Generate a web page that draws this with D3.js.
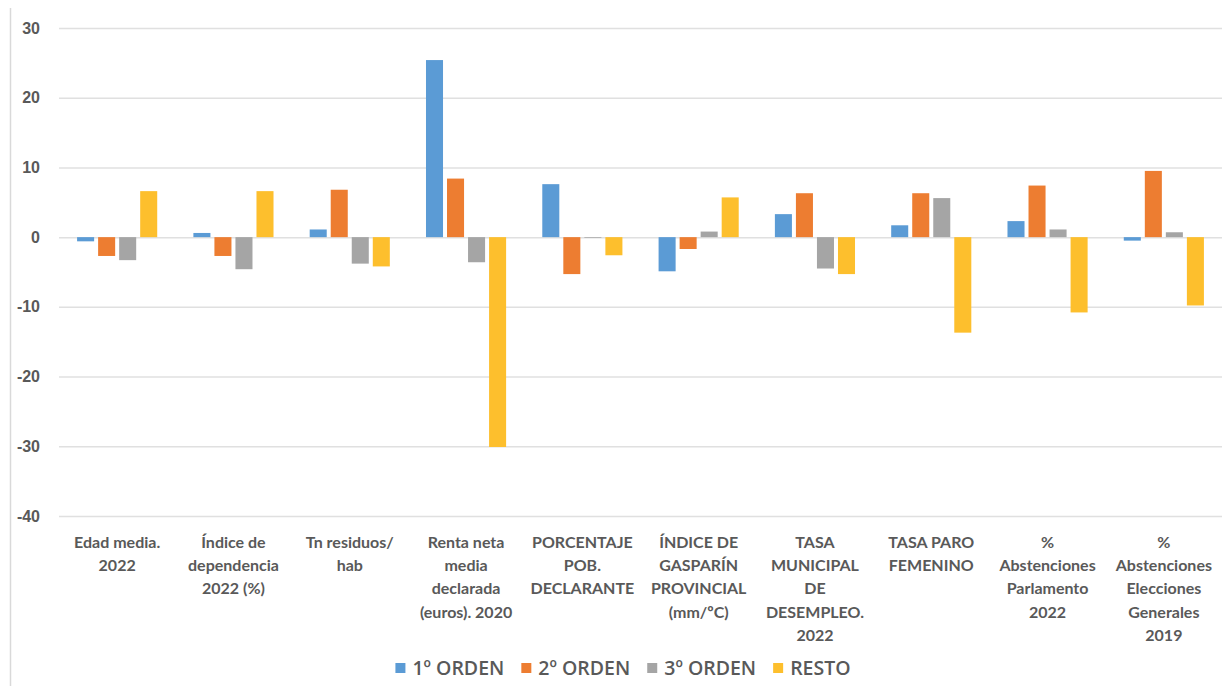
<!DOCTYPE html>
<html>
<head>
<meta charset="utf-8">
<script src="https://cdn.jsdelivr.net/npm/d3@7"></script>
<style>
  body { margin: 0; background: #fff; }
  svg { display: block; font-family: Lato, "Open Sans", sans-serif; }
</style>
</head>
<body>
<div class="chart"></div>
<script>
const categories = [
    "Edad media.\n2022",
    "Índice de\ndependencia\n2022 (%)",
    "Tn residuos/\nhab",
    "Renta neta\nmedia\ndeclarada\n(euros). 2020",
    "PORCENTAJE\nPOB.\nDECLARANTE",
    "ÍNDICE DE\nGASPARÍN\nPROVINCIAL\n(mm/ºC)",
    "TASA\nMUNICIPAL\nDE\nDESEMPLEO.\n2022",
    "TASA PARO\nFEMENINO",
    "%\nAbstenciones\nParlamento\n2022",
    "%\nAbstenciones\nElecciones\nGenerales\n2019"
];
const seriesNames = ["1º ORDEN", "2º ORDEN", "3º ORDEN", "RESTO"];
const orden1 = [-0.6, 0.6, 1.1, 25.4, 7.6, -4.9, 3.3, 1.7, 2.3, -0.5];
const orden2 = [-2.7, -2.7, 6.8, 8.4, -5.3, -1.7, 6.3, 6.3, 7.4, 9.5];
const orden3 = [-3.3, -4.6, -3.8, -3.6, -0.1, 0.8, -4.5, 5.6, 1.1, 0.7];
const resto = [6.6, 6.6, -4.2, -30.1, -2.6, 5.7, -5.3, -13.7, -10.8, -9.8];
const yTicks = [30, 20, 10, 0, -10, -20, -30, -40];

const colors = ["#5b9bd5", "#ed7d31", "#a5a5a5", "#fdbf2d"];
const seriesValues = [orden1, orden2, orden3, resto];

const width = 1226;
const height = 686;
const margin = { top: 28, right: 4, bottom: 170, left: 59 };

const svg = d3.select(".chart")
    .append("svg")
    .attr("width", width)
    .attr("height", height);

// chart border on the left
svg.append("line")
    .attr("x1", 10.5).attr("x2", 10.5)
    .attr("y1", 8).attr("y2", height)
    .attr("stroke", "#d9d9d9")
    .attr("stroke-width", 1.5);

const x0 = d3.scaleBand()
    .domain(categories)
    .range([margin.left, width - margin.right]);

const x1 = d3.scaleBand()
    .domain(seriesNames)
    .range([0, x0.bandwidth()])
    .paddingInner(0.19)
    .paddingOuter(0.86);

const y = d3.scaleLinear()
    .domain([-40, 30])
    .range([height - margin.bottom, margin.top]);

// grid + y labels
const yAxis = svg.append("g")
    .attr("transform", `translate(${margin.left},0)`)
    .call(d3.axisLeft(y)
        .tickValues(yTicks)
        .tickSize(-(width - margin.left - margin.right))
        .tickPadding(19)
        .tickFormat(d3.format("d")));

yAxis.select(".domain").remove();
yAxis.selectAll(".tick line")
    .attr("stroke", "#e0e0e0")
    .attr("stroke-width", 1.5);
yAxis.selectAll(".tick text")
    .attr("fill", "#595959")
    .attr("font-size", 16)
    .attr("font-weight", 700)
    .text(d => d < 0 ? "-" + Math.abs(d) : d);

// bars
const rows = categories.map((c, i) => ({
    cat: c,
    vals: seriesNames.map((s, j) => ({ name: s, value: seriesValues[j][i], color: colors[j] }))
}));

const groups = svg.selectAll(".group")
    .data(rows)
    .enter()
    .append("g")
    .attr("class", "group")
    .attr("transform", d => `translate(${x0(d.cat)},0)`);

groups.selectAll("rect")
    .data(d => d.vals)
    .enter()
    .append("rect")
    .attr("x", d => x1(d.name))
    .attr("y", d => y(Math.max(0, d.value)))
    .attr("width", x1.bandwidth())
    .attr("height", d => Math.abs(y(d.value) - y(0)))
    .attr("fill", d => d.color);

// category labels
const labels = svg.selectAll(".cat-label")
    .data(categories)
    .enter()
    .append("text")
    .attr("class", "cat-label")
    .attr("text-anchor", "middle")
    .attr("fill", "#595959")
    .attr("font-size", 16)
    .attr("font-weight", 700)
    .attr("transform", d => `translate(${x0(d) + x0.bandwidth() / 2},${height - margin.bottom + 32})`);

labels.selectAll("tspan")
    .data(d => d.split("\n"))
    .enter()
    .append("tspan")
    .attr("x", 0)
    .attr("dy", (d, i) => i === 0 ? 0 : 23.2)
    .text(d => d);

// legend
const legend = svg.append("g").attr("class", "legend");
let lx = 0;
seriesNames.forEach((name, i) => {
    const item = legend.append("g").attr("transform", `translate(${lx},0)`);
    item.append("rect")
        .attr("x", 0).attr("y", -5)
        .attr("width", 10).attr("height", 10)
        .attr("fill", colors[i]);
    const t = item.append("text")
        .attr("x", 17)
        .attr("y", 7)
        .attr("fill", "#595959")
        .attr("font-family", "'Open Sans', sans-serif")
        .attr("font-size", 19.5)
        .attr("font-weight", 600)
        .text(name);
    lx += 17 + t.node().getComputedTextLength() + 17;
});
const legendWidth = lx - 17;
legend.attr("transform", `translate(${623 - legendWidth / 2},668)`);
</script>
</body>
</html>
